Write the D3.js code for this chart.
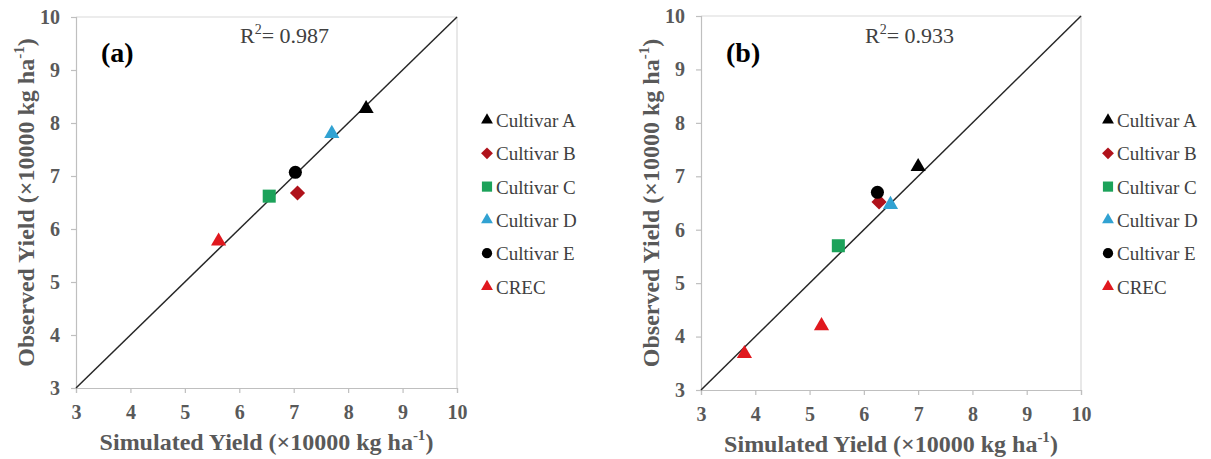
<!DOCTYPE html>
<html>
<head>
<meta charset="utf-8">
<script src="https://cdn.jsdelivr.net/npm/d3@7"></script>
<style>
  html, body { margin: 0; padding: 0; background: #fff; }
  svg { display: block; }
</style>
</head>
<body>
<svg id="chart" width="1211" height="459"></svg>
<script>
const SERIF = '"Liberation Serif", "Times New Roman", "DejaVu Serif", serif';

// Series names, in legend order
const cultivars = ["Cultivar A", "Cultivar B", "Cultivar C", "Cultivar D", "Cultivar E", "CREC"];

// Panel (a): simulated vs observed yield (×10000 kg/ha)
const groupA = ["Cultivar A", "Cultivar B", "Cultivar C", "Cultivar D", "Cultivar E", "CREC"];
const simulatedA = [8.33, 7.07, 6.55, 7.70, 7.03, 5.62];
const observedA  = [8.27, 6.68, 6.62, 7.80, 7.07, 5.77];

// Panel (b)
const groupB = ["Cultivar A", "Cultivar B", "Cultivar C", "Cultivar D", "Cultivar E", "CREC", "CREC"];
const simulatedB = [7.00, 6.28, 5.53, 6.49, 6.25, 3.80, 5.22];
const observedB  = [7.18, 6.52, 5.70, 6.47, 6.70, 3.68, 4.20];

const r2Values = [0.987, 0.933];
const panelLabels = ["(a)", "(b)"];
const axisDomain = [3, 10];
const axisTicks = [3, 4, 5, 6, 7, 8, 9, 10];

// Marker styling per series
const markerColor = {
  "Cultivar A": "#000000",
  "Cultivar B": "#b0121b",
  "Cultivar C": "#1ca25a",
  "Cultivar D": "#31a2d2",
  "Cultivar E": "#000000",
  "CREC": "#e0181e"
};
const markerShape = {
  "Cultivar A": "triangle",
  "Cultivar B": "diamond",
  "Cultivar C": "square",
  "Cultivar D": "triangle",
  "Cultivar E": "circle",
  "CREC": "triangle"
};

function symbolPath(shape, scale) {
  const k = scale || 1;
  switch (shape) {
    case "triangle": return d3.symbol(d3.symbolTriangle, 100 * k * k)();
    case "square":   return d3.symbol(d3.symbolSquare, 170 * k * k)();
    case "circle":   return d3.symbol(d3.symbolCircle, 135 * k * k)();
    case "diamond":  return d3.symbol(d3.symbolSquare, 115 * k * k)();
  }
}
function symbolRotate(shape) { return shape === "diamond" ? 45 : 0; }

const svg = d3.select("#chart");
const tickColor = "#595959";

const panels = [
  { sim: simulatedA, obs: observedA, grp: groupA, r2: r2Values[0], label: panelLabels[0],
    x0: 76, x1: 457, y0: 388, y1: 17, legendX: 487 },
  { sim: simulatedB, obs: observedB, grp: groupB, r2: r2Values[1], label: panelLabels[1],
    x0: 701, x1: 1081, y0: 390, y1: 16, legendX: 1108 }
];

panels.forEach(p => {
  const x = d3.scaleLinear().domain(axisDomain).range([p.x0, p.x1]);
  const y = d3.scaleLinear().domain(axisDomain).range([p.y0, p.y1]);
  const g = svg.append("g").attr("font-family", SERIF);

  // plot frame (top and right edges)
  g.append("path")
    .attr("d", `M${p.x0},${p.y1}H${p.x1}V${p.y0}`)
    .attr("fill", "none").attr("stroke", "#d9d9d9").attr("stroke-width", 1.2);

  const fmt = d3.format("d");
  const xa = g.append("g").attr("transform", `translate(0,${p.y0})`)
    .call(d3.axisBottom(x).tickValues(axisTicks).tickFormat(fmt).tickSizeOuter(0).tickSize(5).tickPadding(12));
  const ya = g.append("g").attr("transform", `translate(${p.x0},0)`)
    .call(d3.axisLeft(y).tickValues(axisTicks).tickFormat(fmt).tickSizeOuter(0).tickSize(5).tickPadding(11));
  [xa, ya].forEach(a => {
    a.attr("font-family", SERIF).attr("font-size", 20);
    a.select(".domain").attr("stroke", "#bfbfbf").attr("stroke-width", 1.2);
    a.selectAll(".tick line").attr("stroke", "#bfbfbf").attr("stroke-width", 1.2);
    a.selectAll(".tick text")
      .attr("fill", tickColor)
      .attr("font-weight", "bold");
  });

  // 1:1 line
  g.append("line")
    .attr("x1", x(axisDomain[0])).attr("y1", y(axisDomain[0]))
    .attr("x2", x(axisDomain[1])).attr("y2", y(axisDomain[1]))
    .attr("stroke", "#262626").attr("stroke-width", 1.5);

  // data points
  const pts = p.sim.map((s, i) => ({ s, o: p.obs[i], grp: p.grp[i] }));
  g.selectAll("path.pt").data(pts).join("path")
    .attr("class", "pt")
    .attr("d", d => symbolPath(markerShape[d.grp]))
    .attr("transform", d => `translate(${x(d.s)},${y(d.o)}) rotate(${symbolRotate(markerShape[d.grp])})`)
    .attr("fill", d => markerColor[d.grp]);

  // axis titles
  const xt = g.append("text")
    .attr("x", (p.x0 + p.x1) / 2).attr("y", p.y0 + 62)
    .attr("text-anchor", "middle")
    .attr("fill", tickColor).attr("font-weight", "bold").attr("font-size", 24);
  xt.append("tspan").text("Simulated Yield (×10000 kg ha");
  xt.append("tspan").attr("dy", -10).attr("font-size", 15).text("-1");
  xt.append("tspan").attr("dy", 10).text(")");

  const yt = g.append("text")
    .attr("transform", `translate(${p.x0 - 42},${(p.y0 + p.y1) / 2}) rotate(-90)`)
    .attr("text-anchor", "middle")
    .attr("fill", tickColor).attr("font-weight", "bold").attr("font-size", 24);
  yt.append("tspan").text("Observed Yield (×10000 kg ha");
  yt.append("tspan").attr("dy", -10).attr("font-size", 15).text("-1");
  yt.append("tspan").attr("dy", 10).text(")");

  // panel label and R²
  g.append("text")
    .attr("x", p.x0 + 25).attr("y", 62)
    .attr("fill", "#000").attr("font-weight", "bold").attr("font-size", 28)
    .text(p.label);

  const r = g.append("text")
    .attr("x", p.x0 + 164).attr("y", 43)
    .attr("fill", "#404040").attr("font-size", 22);
  r.append("tspan").text("R");
  r.append("tspan").attr("dy", -9).attr("font-size", 14).text("2");
  r.append("tspan").attr("dy", 9).text("= " + d3.format(".3f")(p.r2));

  // legend
  const lg = g.append("g").attr("transform", `translate(${p.legendX},120)`);
  cultivars.forEach((c, i) => {
    const row = lg.append("g").attr("transform", `translate(0,${i * 33.3})`);
    row.append("path")
      .attr("d", symbolPath(markerShape[c], 0.78))
      .attr("transform", `rotate(${symbolRotate(markerShape[c])})`)
      .attr("fill", markerColor[c]);
    row.append("text")
      .attr("x", 9).attr("y", 7)
      .attr("fill", "#404040").attr("font-size", 19)
      .text(c);
  });
});
</script>
</body>
</html>
